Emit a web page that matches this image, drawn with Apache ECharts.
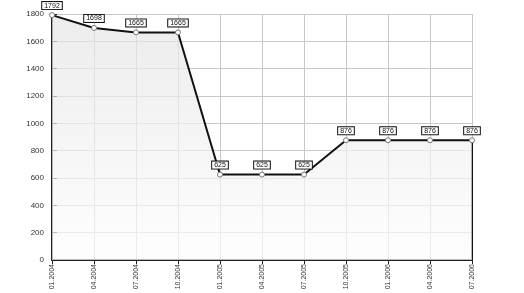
<!DOCTYPE html>
<html><head><meta charset="utf-8">
<script src="https://cdn.jsdelivr.net/npm/echarts@6/dist/echarts.min.js"></script>
<style>html,body{margin:0;padding:0;background:#fff}#c{width:524px;height:293px}</style>
</head><body><div id="c"></div>
<script>
var categories = ['01.2004','04.2004','07.2004','10.2004','01.2005','04.2005','07.2005','10.2005','01.2006','04.2006','07.2006'];
var values = [1792,1698,1665,1665,625,625,625,876,876,876,876];
var yTicks = {min:0, max:1800, interval:200};

var lastCat = categories[categories.length-1];
var lastVal = values[values.length-1];

var chart = echarts.init(document.getElementById('c'));
chart.setOption({
  animation:false,
  grid:{left:52,right:52,top:14,bottom:33},
  xAxis:{
    type:'category', data:categories, boundaryGap:false,
    axisLine:{lineStyle:{color:'#222',width:2}},
    axisTick:{show:true,inside:false,length:4,lineStyle:{color:'#222',width:1}},
    axisLabel:{rotate:90,fontSize:7,color:'#333',fontFamily:'Liberation Sans',margin:4},
    splitLine:{show:true,lineStyle:{color:'#c8c8c8',width:1}}
  },
  yAxis:{
    type:'value', min:yTicks.min, max:yTicks.max, interval:yTicks.interval,
    axisLine:{show:true,lineStyle:{color:'#222',width:2}},
    axisTick:{show:true,inside:true,length:5,lineStyle:{color:'#222',width:1}},
    axisLabel:{fontSize:8,color:'#333',fontFamily:'Liberation Sans',margin:8,formatter:function(v){return String(v);}},
    splitLine:{show:true,lineStyle:{color:'#c8c8c8',width:1}}
  },
  series:[{
    type:'line', data:values,
    lineStyle:{color:'#111',width:2},
    symbol:'circle', symbolSize:5,
    itemStyle:{color:'#fff',borderColor:'#777',borderWidth:1},
    areaStyle:{color:new echarts.graphic.LinearGradient(0,0,0,1,[{offset:0,color:'#e4e4e4'},{offset:1,color:'#fcfcfc'}])},
    label:{show:true,position:'top',distance:3,fontSize:7,color:'#111',fontFamily:'Liberation Sans',
      backgroundColor:'#fff',borderColor:'#111',borderWidth:1,padding:[0,2,0,2],lineHeight:7},
    z:3
  },{
    type:'line', data:[[lastCat,0],[lastCat,lastVal]],
    lineStyle:{color:'#111',width:2}, symbol:'none', silent:true, z:2
  }]
});
</script></body></html>
